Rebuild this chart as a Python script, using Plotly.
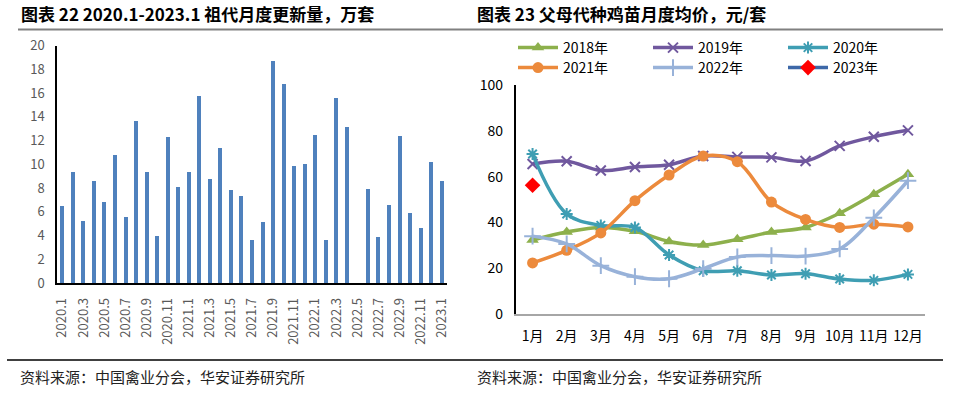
import plotly.graph_objects as go

# ---------------- data: left chart ----------------
months_left = ["2020.1", "2020.2", "2020.3", "2020.4", "2020.5", "2020.6", "2020.7", "2020.8",
               "2020.9", "2020.10", "2020.11", "2020.12",
               "2021.1", "2021.2", "2021.3", "2021.4", "2021.5", "2021.6", "2021.7", "2021.8",
               "2021.9", "2021.10", "2021.11", "2021.12",
               "2022.1", "2022.2", "2022.3", "2022.4", "2022.5", "2022.6", "2022.7", "2022.8",
               "2022.9", "2022.10", "2022.11", "2022.12",
               "2023.1"]
renewal = [6.5, 9.4, 5.3, 8.6, 6.9, 10.8, 5.6, 13.7, 9.4, 4.0, 12.3, 8.1,
           9.4, 15.8, 8.8, 11.4, 7.9, 7.4, 3.7, 5.2, 18.7, 16.8, 9.9, 10.1,
           12.5, 3.7, 15.6, 13.2, 0.0, 8.0, 3.9, 6.6, 12.4, 5.9, 4.7, 10.2,
           8.6]
left_ticks = months_left[::2]
left_yticks = [0, 2, 4, 6, 8, 10, 12, 14, 16, 18, 20]

# ---------------- data: right chart ----------------
months_right = ["1月", "2月", "3月", "4月", "5月", "6月", "7月", "8月", "9月", "10月", "11月", "12月"]
p2018 = [32.3, 35.8, 37.8, 36.1, 31.7, 30.1, 32.6, 35.8, 37.8, 44.0, 52.3, 61.0]
p2019 = [65.5, 66.7, 62.7, 64.2, 65.2, 69.0, 68.6, 68.4, 66.8, 73.4, 77.4, 80.2]
p2020 = [69.9, 43.7, 38.7, 37.8, 25.8, 18.9, 18.9, 17.0, 17.6, 15.3, 14.7, 17.3]
p2021 = [22.3, 27.8, 35.4, 49.5, 60.7, 69.0, 66.5, 48.9, 41.3, 37.8, 39.2, 38.0]
p2022 = [34.0, 30.6, 21.1, 16.3, 15.4, 19.8, 24.9, 25.5, 25.3, 28.4, 42.0, 58.2]
p2023 = [56.2]
right_yticks = [0, 20, 40, 60, 80, 100]

title_left = "图表 22 2020.1-2023.1 祖代月度更新量，万套"
title_right = "图表 23 父母代种鸡苗月度均价，元/套"
source_text = "资料来源：中国禽业分会，华安证券研究所"

W, H = 980, 394
FONT = "Noto Sans CJK SC, Noto Sans, sans-serif"


def px(x):
    return x / W


def py(y):
    return 1 - y / H


fig = go.Figure()

fig.add_trace(go.Bar(
    x=months_left, y=renewal, marker=dict(color="#4F81BD", line=dict(width=0)),
    width=0.38, xaxis="x", yaxis="y", showlegend=False))

series = [
    ("2018年", p2018, "#8DB04C", dict(symbol="triangle-up", size=11), "legend"),
    ("2019年", p2019, "#70589E", dict(symbol="x-thin-open", size=10, line=dict(width=2, color="#70589E")), "legend"),
    ("2020年", p2020, "#3F9EB3", dict(symbol="asterisk-open", size=10, line=dict(width=2, color="#3F9EB3")), "legend"),
    ("2021年", p2021, "#EC8A3C", dict(symbol="circle", size=11), "legend2"),
    ("2022年", p2022, "#98B2D9", dict(symbol="cross-thin-open", size=12, line=dict(width=2, color="#98B2D9")), "legend2"),
]
for name, vals, color, mk, lg in series:
    mk = dict(mk)
    mk["color"] = color
    fig.add_trace(go.Scatter(
        x=months_right, y=vals, name=name, mode="lines+markers",
        line=dict(color=color, width=3.5, shape="spline", smoothing=1.0),
        marker=mk, xaxis="x2", yaxis="y2", legend=lg))

fig.add_trace(go.Scatter(
    x=months_right[:1], y=p2023, name="2023年", mode="lines+markers",
    line=dict(color="#3D68A8", width=3.5),
    marker=dict(symbol="diamond", size=12, color="#FF0000"),
    xaxis="x2", yaxis="y2", legend="legend2"))

legend_common = dict(orientation="h", xanchor="left", yanchor="middle",
                     font=dict(family=FONT, size=14, color="#000000"),
                     bgcolor="rgba(0,0,0,0)", entrywidth=80, entrywidthmode="pixels",
                     itemwidth=40, itemclick=False)

fig.update_layout(
    width=W, height=H,
    margin=dict(l=0, r=0, t=0, b=0, autoexpand=False),
    paper_bgcolor="white", plot_bgcolor="white",
    font=dict(family=FONT),
    showlegend=True,
    bargap=0,
    legend=dict(legend_common, x=px(513), y=py(48)),
    legend2=dict(legend_common, x=px(513), y=py(68)),
    xaxis=dict(domain=[px(57), px(447)], type="category", range=[-0.5, 36.5],
               categoryorder="array", categoryarray=months_left,
               tickmode="array", tickvals=left_ticks, ticktext=left_ticks,
               tickangle=-90, tickfont=dict(family=FONT, size=13, color="#595959"),
               showline=True, linecolor="#000000", linewidth=1.5,
               showgrid=False, zeroline=False, ticks="", ticklabelstandoff=8,
               anchor="y", automargin=False),
    yaxis=dict(domain=[py(283), py(45.5)], range=[0, 20],
               tickmode="array", tickvals=left_yticks,
               tickfont=dict(family=FONT, size=13, color="#595959"),
               showline=True, linecolor="#000000", linewidth=1.5,
               showgrid=False, zeroline=False, ticks="", ticklabelstandoff=8,
               anchor="x", automargin=False),
    xaxis2=dict(domain=[px(515.5), px(925)], type="category", range=[-0.5, 11.5],
                tickfont=dict(family=FONT, size=14, color="#000000"),
                showline=True, linecolor="#A6A6A6", linewidth=1.5,
                showgrid=False, zeroline=False, ticks="", ticklabelstandoff=8,
                anchor="y2", automargin=False),
    yaxis2=dict(domain=[py(314), py(85)], range=[0, 100],
                tickmode="array", tickvals=right_yticks,
                tickfont=dict(family=FONT, size=14, color="#000000"),
                showline=True, linecolor="#000000", linewidth=1.5,
                showgrid=False, zeroline=False, ticks="", ticklabelstandoff=8,
                anchor="x2", automargin=False),
)

fig.add_annotation(text="<b>" + title_left + "</b>", x=px(19), y=py(14), xref="paper", yref="paper",
                   xanchor="left", yanchor="middle", showarrow=False,
                   font=dict(family=FONT, size=17, color="#000000"))
fig.add_annotation(text="<b>" + title_right + "</b>", x=px(475), y=py(14), xref="paper", yref="paper",
                   xanchor="left", yanchor="middle", showarrow=False,
                   font=dict(family=FONT, size=17, color="#000000"))
for sx in (18, 475):
    fig.add_annotation(text=source_text, x=px(sx), y=py(376), xref="paper", yref="paper",
                       xanchor="left", yanchor="middle", showarrow=False,
                       font=dict(family=FONT, size=15, color="#222222"))

fig.add_shape(type="line", xref="paper", yref="paper", x0=px(18), x1=px(943), y0=py(29.5), y1=py(29.5),
              line=dict(color="#808080", width=2))
fig.add_shape(type="line", xref="paper", yref="paper", x0=px(7), x1=px(943), y0=py(360), y1=py(360),
              line=dict(color="#000000", width=1.5))

fig.write_html("out.html",
               config={"displayModeBar": False},
               post_script="document.body.style.margin='0';document.body.style.overflow='hidden';")
